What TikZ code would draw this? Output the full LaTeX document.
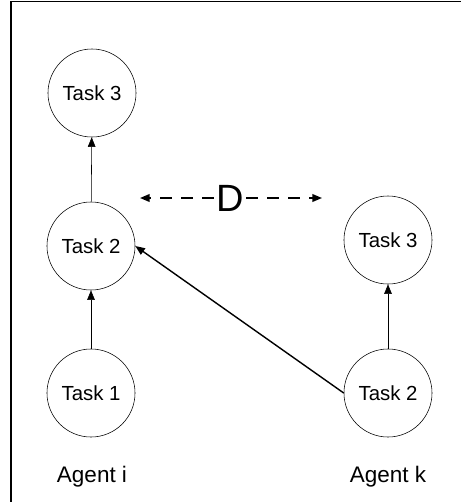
\documentclass[tikz,border=0pt]{standalone}
\usepackage{fontspec}
\setmainfont{Liberation Sans}
\usetikzlibrary{arrows.meta}
\tikzset{>={Triangle[length=2.4mm,width=1.9mm]}}
\tikzset{task/.style={circle,draw,thin,minimum size=2.2cm,inner sep=0pt,font=\fontsize{14.5}{16}\selectfont},
  agent/.style={font=\fontsize{16}{18}\selectfont}}

\begin{document}
\begin{tikzpicture}[x=0.025cm,y=-0.025cm]
\useasboundingbox (0,0) rectangle (461,502);
\draw[line width=1pt] (11,502)--(11,1.5)--(461,1.5);
    \node[task] (i3) at (92,93) {Task 3};
    \node[task] (i2) at (91,246) {Task 2};
    \node[task] (i1) at (91,393) {Task 1};
    \node[task] (k3) at (388,240) {Task 3};
    \node[task] (k2) at (388,393) {Task 2};
    \node[agent] (ai) at (92,477) {Agent i};
    \node[agent] (ak) at (388,477) {Agent k};
    \node[font=\fontsize{27}{29}\selectfont,inner sep=1.5pt] (d) at (230,198) {D};
    \coordinate (dl) at (140,198);
    \coordinate (dr) at (322,198);
    \draw[->] (i2)--(i3);
    \draw[->] (i1)--(i2);
    \draw[->] (k2)--(k3);
    \draw[->,line width=1pt] (k2.west)--(i2.east);
    \draw[->,dash pattern=on 8.5pt off 6.5pt,line width=1.2pt] (d)--(dl);
    \draw[->,dash pattern=on 8.5pt off 6.5pt,line width=1.2pt] (d)--(dr);
\end{tikzpicture}
\end{document}
